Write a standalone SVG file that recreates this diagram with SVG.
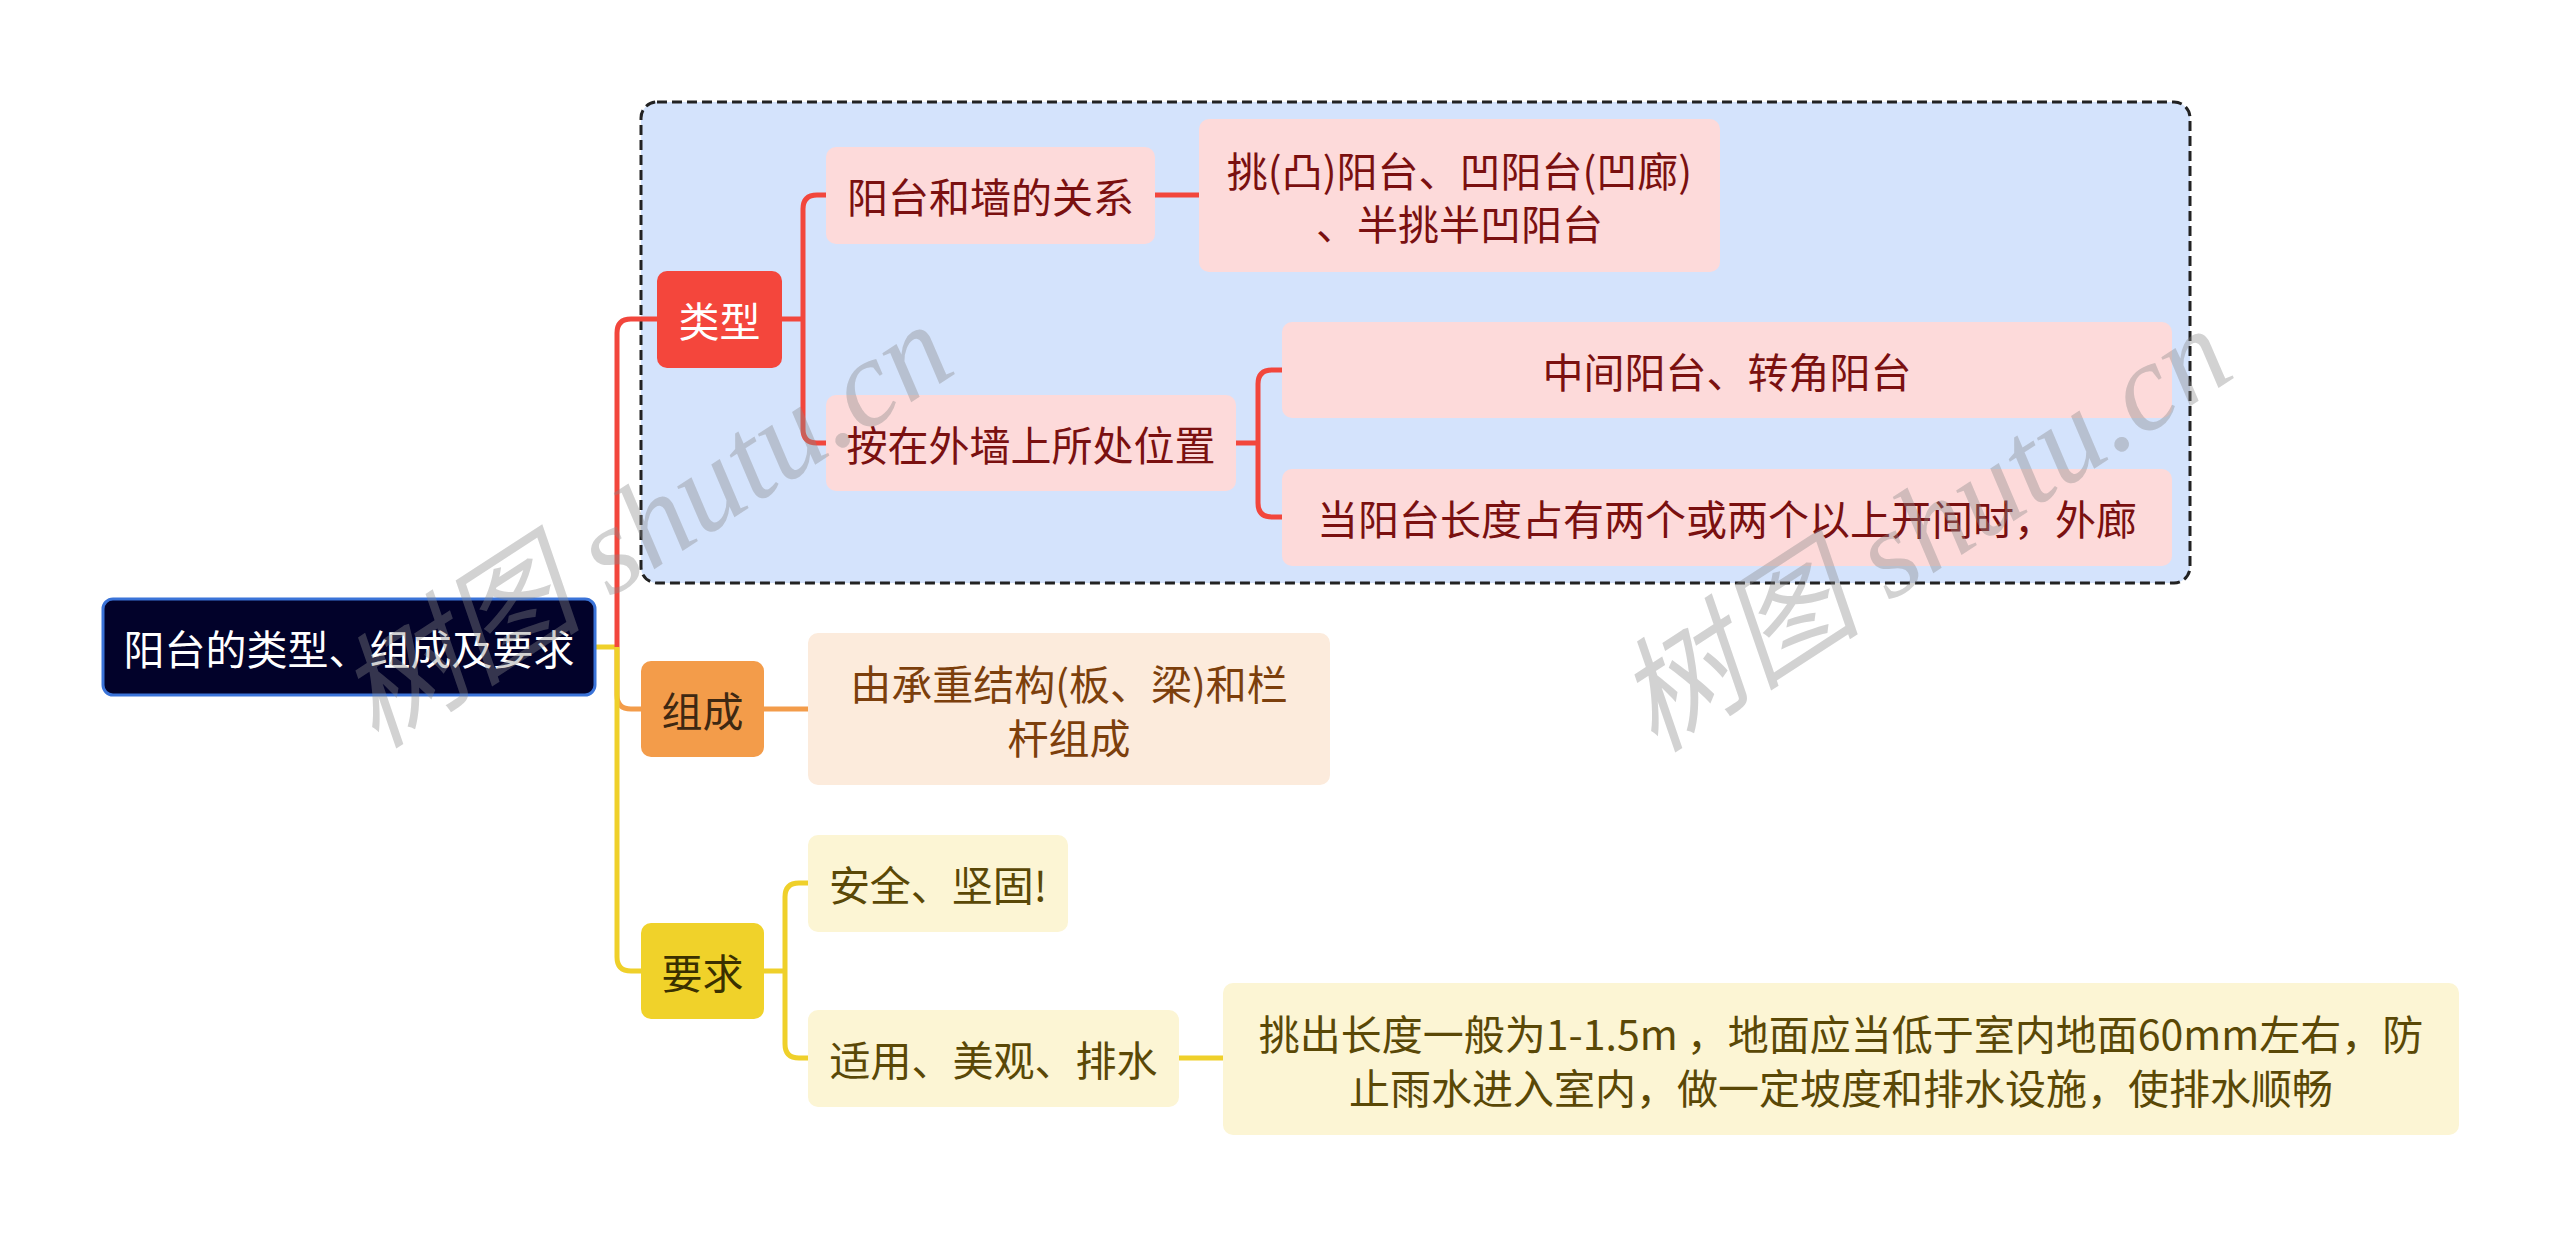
<svg xmlns="http://www.w3.org/2000/svg" width="2560" height="1237" viewBox="0 0 2560 1237">
<style>
  text { font-family: "Noto Sans CJK SC", "Noto Sans", sans-serif; font-size: 41px; text-anchor: middle; dominant-baseline: central; }
  .c { fill: none; stroke-width: 5; stroke-linecap: butt; stroke-linejoin: round; }
  .red { stroke: #F2463C; }
  .org { stroke: #F39C4A; }
  .yel { stroke: #EFD02A; }
  .pink { fill: #FDDADA; }
  .pinkt { fill: #7A1010; }
  .peach { fill: #FCEBDC; }
  .peacht { fill: #7C3F0C; }
  .pale { fill: #FCF5D4; }
  .palet { fill: #5A4806; }
  .wm { font-family: "Liberation Serif", "Noto Sans CJK SC", serif; font-style: italic; font-size: 124px; fill: #8a8a8a; fill-opacity: 0.38; dominant-baseline: alphabetic; text-anchor: start; }
</style>
<rect width="2560" height="1237" fill="#ffffff"/>

<g id="boundary">
  <rect x="641" y="102" width="1549" height="481" rx="16" fill="#D4E3FC" stroke="#222222" stroke-width="3" stroke-dasharray="10 5"/>
</g>

<g id="connectors">
  <path class="c yel" d="M596,647 H617"/>
  <path class="c red" d="M617,647 V333 Q617,319 631,319 H657"/>
  <path class="c org" d="M617,647 V695 Q617,709 631,709 H641"/>
  <path class="c yel" d="M617,647 V957 Q617,971 631,971 H641"/>
  <path class="c red" d="M782,319 H803 M803,319 V209 Q803,195 817,195 H826 M803,319 V429 Q803,443 817,443 H826"/>
  <path class="c red" d="M1155,195 H1199"/>
  <path class="c red" d="M1236,443 H1258 M1258,443 V384 Q1258,370 1272,370 H1282 M1258,443 V503 Q1258,517 1272,517 H1282"/>
  <path class="c org" d="M764,709 H808"/>
  <path class="c yel" d="M764,971 H785 M785,971 V897 Q785,883 799,883 H808 M785,971 V1044 Q785,1058 799,1058 H808"/>
  <path class="c yel" d="M1179,1058 H1223"/>
</g>

<g id="root">
  <rect x="103" y="599" width="492" height="96" rx="10" fill="#02022A" stroke="#3A73D8" stroke-width="3"/>
  <text x="349" y="647" fill="#ffffff">阳台的类型、组成及要求</text>
</g>

<g id="n-leixing">
  <rect x="657" y="271" width="125" height="97" rx="10" fill="#F4463C"/>
  <text x="719.5" y="319" fill="#ffffff">类型</text>
</g>
<g id="n-guanxi">
  <rect class="pink" x="826" y="147" width="329" height="97" rx="10"/>
  <text class="pinkt" x="990.5" y="195">阳台和墙的关系</text>
</g>
<g id="n-tiao">
  <rect class="pink" x="1199" y="119" width="521" height="153" rx="10"/>
  <text class="pinkt" x="1459.5" y="169">挑(凸)阳台、凹阳台(凹廊)</text>
  <text class="pinkt" x="1459.5" y="222">、半挑半凹阳台</text>
</g>
<g id="n-weizhi">
  <rect class="pink" x="826" y="395" width="410" height="96" rx="10"/>
  <text class="pinkt" x="1031" y="443">按在外墙上所处位置</text>
</g>
<g id="n-zhongjian">
  <rect class="pink" x="1282" y="322" width="890" height="96" rx="10"/>
  <text class="pinkt" x="1727" y="370">中间阳台、转角阳台</text>
</g>
<g id="n-dang">
  <rect class="pink" x="1282" y="469" width="890" height="97" rx="10"/>
  <text class="pinkt" x="1727" y="517">当阳台长度占有两个或两个以上开间时，外廊</text>
</g>

<g id="n-zucheng">
  <rect x="641" y="661" width="123" height="96" rx="10" fill="#F39C4A"/>
  <text x="702.5" y="709" fill="#3E2812">组成</text>
</g>
<g id="n-chengzhong">
  <rect class="peach" x="808" y="633" width="522" height="152" rx="10"/>
  <text class="peacht" x="1069" y="682">由承重结构(板、梁)和栏</text>
  <text class="peacht" x="1069" y="736">杆组成</text>
</g>

<g id="n-yaoqiu">
  <rect x="641" y="923" width="123" height="96" rx="10" fill="#F0D22A"/>
  <text x="702.5" y="971" fill="#3A3000">要求</text>
</g>
<g id="n-anquan">
  <rect class="pale" x="808" y="835" width="260" height="97" rx="10"/>
  <text class="palet" x="938" y="883">安全、坚固!</text>
</g>
<g id="n-shiyong">
  <rect class="pale" x="808" y="1010" width="371" height="97" rx="10"/>
  <text class="palet" x="993.5" y="1058">适用、美观、排水</text>
</g>
<g id="n-tiaochu">
  <rect class="pale" x="1223" y="983" width="1236" height="152" rx="10"/>
  <text class="palet" x="1841" y="1032">挑出长度一般为1-1.5m ，地面应当低于室内地面60mm左右，防</text>
  <text class="palet" x="1841" y="1086">止雨水进入室内，做一定坡度和排水设施，使排水顺畅</text>
</g>

<g id="watermarks">
  <text class="wm" x="376" y="750" transform="rotate(-33 376 750)">树图 shutu.cn</text>
  <text class="wm" x="1655" y="754" transform="rotate(-33 1655 754)">树图 shutu.cn</text>
</g>
</svg>
